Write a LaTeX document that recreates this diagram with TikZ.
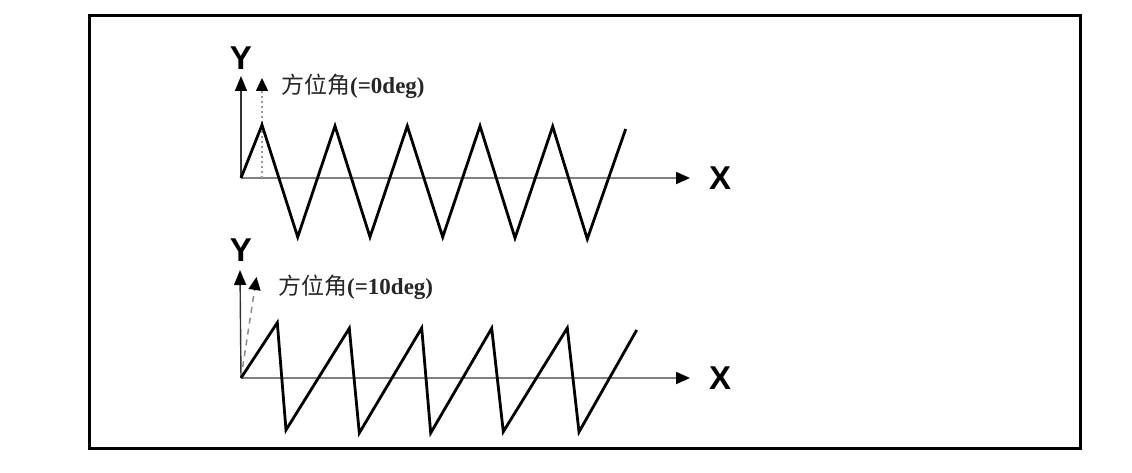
\documentclass[tikz,border=0pt]{standalone}
\usepackage{fontspec}
\setmainfont{Liberation Serif}
\setsansfont{Liberation Sans}
\newfontfamily\cjk{Noto Sans CJK SC}
\usetikzlibrary{arrows.meta}
\tikzset{
  frame/.style={line width=3pt,black},
  yaxis/.style={line width=1.4pt,black!80,-{Triangle[length=15pt,width=12pt,black]}},
  xaxis/.style={line width=2pt,black!50,-{Triangle[length=14pt,width=12pt,black]}},
  dirdot/.style={line width=1.5pt,black!40,dash pattern=on 1.5pt off 3.5pt,-{Triangle[length=13pt,width=12pt,black]}},
  dirdash/.style={line width=1.5pt,black!45,dash pattern=on 6pt off 5pt,-{Triangle[length=13pt,width=12pt,black]}},
  wave/.style={line width=2.8pt,black,line join=miter},
  axlabel/.style={font=\fontsize{33}{33}\sffamily\bfseries,inner sep=0pt},
  anglabel/.style={font=\fontsize{23}{23}\selectfont\bfseries,inner sep=0pt,anchor=west,text=black!85}
}
\begin{document}
\begin{tikzpicture}[x=1pt,y=-1pt]
\useasboundingbox (0,0) rectangle (1132,473);
\draw[frame] (89,16) rectangle (1080,448);

% ---- top graph
\coordinate (o1) at (241,178);
\coordinate (y1) at (241,76);
\coordinate (x1) at (690,178);
\coordinate (d1s) at (262,178);
\coordinate (d1) at (262,78);
\draw[xaxis] (o1) -- (x1);
\draw[yaxis] (o1) -- (y1);
\draw[dirdot] (d1s) -- (d1);
\draw[wave] (o1) -- (262,125) -- (297.7,237) -- (335,126) -- (370,237) -- (407.3,126) -- (442.7,237) -- (480,126) -- (515,238) -- (552.7,126.5) -- (587.3,239) -- (625.7,129);
\node[axlabel] (Y1) at (241,58) {Y};
\node[axlabel] (X1) at (720,178) {X};
\node[anglabel] (A1) at (281,86) {{\cjk\mdseries 方位角}(=0deg)};

% ---- bottom graph
\coordinate (o2) at (241,378);
\coordinate (y2) at (240,270);
\coordinate (x2) at (690,378);
\coordinate (d2) at (256.5,277);
\draw[xaxis] (o2) -- (x2);
\draw[yaxis] (o2) -- (y2);
\draw[dirdash] (o2) -- (d2);
\draw[wave] (o2) -- (277.3,322.7) -- (286,430) -- (349.3,328.3) -- (359.3,433) -- (421.7,328) -- (430.7,433) -- (491.7,328.3) -- (503.3,431.7) -- (567.3,328) -- (579,432) -- (636.7,330);
\node[axlabel] (Y2) at (241,250) {Y};
\node[axlabel] (X2) at (720,378) {X};
\node[anglabel] (A2) at (278,287) {{\cjk\mdseries 方位角}(=10deg)};
\end{tikzpicture}
\end{document}
